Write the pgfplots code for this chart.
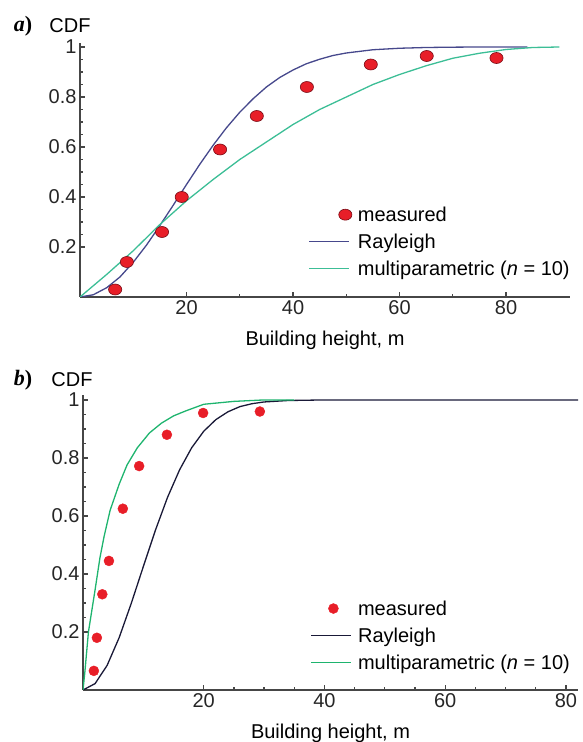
\documentclass[border=0pt]{standalone}
\usepackage{pgfplots}
\pgfplotsset{compat=1.18}
\usepackage{fontspec}
\setmainfont{Liberation Sans}
\newfontfamily\serifit{Liberation Serif}
\definecolor{ablue}{RGB}{70,72,140}
\definecolor{agreen}{RGB}{60,190,150}
\definecolor{bgreen}{RGB}{30,180,110}
\definecolor{bblack}{RGB}{25,25,55}
\definecolor{mred}{RGB}{232,30,40}
\definecolor{mdark}{RGB}{120,10,20}
\definecolor{axcol}{RGB}{70,70,70}
\pgfplotsset{
  common/.style={
    scale only axis,
    axis lines=left,
    axis line style={-, axcol, line width=1.4pt},
    tick style={axcol, line width=1.2pt},
    tick align=inside,
    major tick length=5pt,
    minor tick length=3pt,
    ymin=0,
    ytick={0.2,0.4,0.6,0.8,1},
    yticklabels={0.2,0.4,0.6,0.8,1},
    xtick={20,40,60,80},
    minor y tick num=3,
    /pgf/number format/assume math mode=true,
    tick label style={font=\fontsize{20}{24}\selectfont, text=black!85},
    label style={font=\fontsize{20}{24}\selectfont},
    xlabel={Building height, m},
    legend cell align=left,
    legend style={draw=none, fill=none, font=\fontsize{20}{27}\selectfont, inner sep=0pt, row sep=7pt, column sep=4pt},
  },
  lineleg/.style={legend image code/.code={\draw[##1] (0pt,0pt) -- (40pt,0pt);}},
  measlegA/.style={legend image code/.code={\draw[##1] plot coordinates {(36pt,0pt)};}},
  measlegB/.style={legend image code/.code={\draw[##1] plot coordinates {(22pt,0pt)};}},
}
\begin{document}
\begin{tikzpicture}[x=1pt,y=1pt]
\path[use as bounding box] (0,0) rectangle (582,742);
% panel a
\begin{axis}[common,
  at={(80pt,445pt)}, anchor=origin,
  width=490pt, height=254pt,
  xmin=0, xmax=92, ymax=1.016,
  minor x tick num=1,
  xlabel style={at={(axis description cs:0.5,0)}, anchor=north, yshift=-30pt},
  legend style={at={(axis cs:42.9,0.37)}, anchor=north west},
]
\addplot[only marks, mark=*, mark size=5.5pt, mark options={xscale=1.2, fill=mred, draw=mdark, line width=0.6pt}, measlegA]
  coordinates {(6.6,0.03) (8.8,0.14) (15.4,0.26) (19.1,0.40) (26.3,0.59) (33.2,0.724) (42.6,0.84) (54.6,0.93) (65.1,0.964) (78.2,0.956)};
\addlegendentry{measured}
\addplot[ablue, line width=1.3pt, lineleg] coordinates {
  (0,0) (2.5,0.009) (5,0.037) (7.5,0.080) (10,0.139) (12.5,0.208) (15,0.286) (17.5,0.367) (20,0.450) (22.5,0.531)
  (25,0.607) (27.5,0.677) (30,0.739) (32.5,0.793) (35,0.840) (37.5,0.878) (40,0.908) (42.5,0.933) (45,0.951)
  (47.5,0.966) (50,0.976) (55,0.989) (60,0.995) (65,0.998) (70,0.9993) (75,1) (84,1)};
\addlegendentry{Rayleigh}
\addplot[agreen, line width=1.3pt, lineleg] coordinates {
  (0,0) (5,0.09) (10,0.185) (15,0.29) (20,0.385) (25,0.47) (30,0.55) (35,0.62) (40,0.69) (45,0.75) (50,0.80)
  (55,0.85) (60,0.89) (65,0.925) (70,0.955) (75,0.975) (80,0.99) (85,0.998) (90,1)};
\addlegendentry{multiparametric (\textit{n} = 10)}
\end{axis}
\node[font=\fontsize{22}{26}\selectfont\serifit\bfseries] at (23,716) {\textit{a})};
\node[font=\fontsize{20}{24}\selectfont] at (70,716) {CDF};
% panel b
\begin{axis}[common,
  at={(83pt,52pt)}, anchor=origin,
  width=495pt, height=295pt,
  xmin=0, xmax=82, ymax=1.017,
  minor x tick num=3,
  xlabel style={at={(axis description cs:0.5,0)}, anchor=north, yshift=-30pt},
  legend style={at={(axis cs:37.7,0.316)}, anchor=north west},
]
\addplot[only marks, mark=*, mark size=5pt, mark options={fill=mred, draw=mred}, measlegB]
  coordinates {(1.8,0.066) (2.3,0.18) (3.2,0.33) (4.3,0.445) (6.6,0.625) (9.3,0.772) (13.9,0.88) (19.9,0.955) (29.3,0.96)};
\addlegendentry{measured}
\addplot[bblack, line width=1.3pt, lineleg] coordinates {
  (0,0) (2,0.022) (4,0.085) (6,0.181) (8,0.299) (10,0.426) (12,0.551) (14,0.664) (16,0.759) (18,0.835)
  (20,0.892) (22,0.932) (24,0.959) (26,0.977) (28,0.987) (30,0.993) (34,0.998) (40,1) (82,1)};
\addlegendentry{Rayleigh}
\addplot[bgreen, line width=1.3pt, lineleg] coordinates {
  (0,0) (0.3,0.06) (0.9,0.2) (2,0.345) (2.8,0.455) (3.5,0.53) (4.5,0.62) (6,0.71) (7.3,0.776) (9,0.835)
  (11,0.886) (13,0.92) (15,0.945) (17,0.962) (20,0.985) (25,0.995) (30,1) (35,1)};
\addlegendentry{multiparametric (\textit{n} = 10)}
\end{axis}
\node[font=\fontsize{22}{26}\selectfont\serifit\bfseries] at (23,362) {\textit{b})};
\node[font=\fontsize{20}{24}\selectfont] at (72,362) {CDF};
\end{tikzpicture}
\end{document}
